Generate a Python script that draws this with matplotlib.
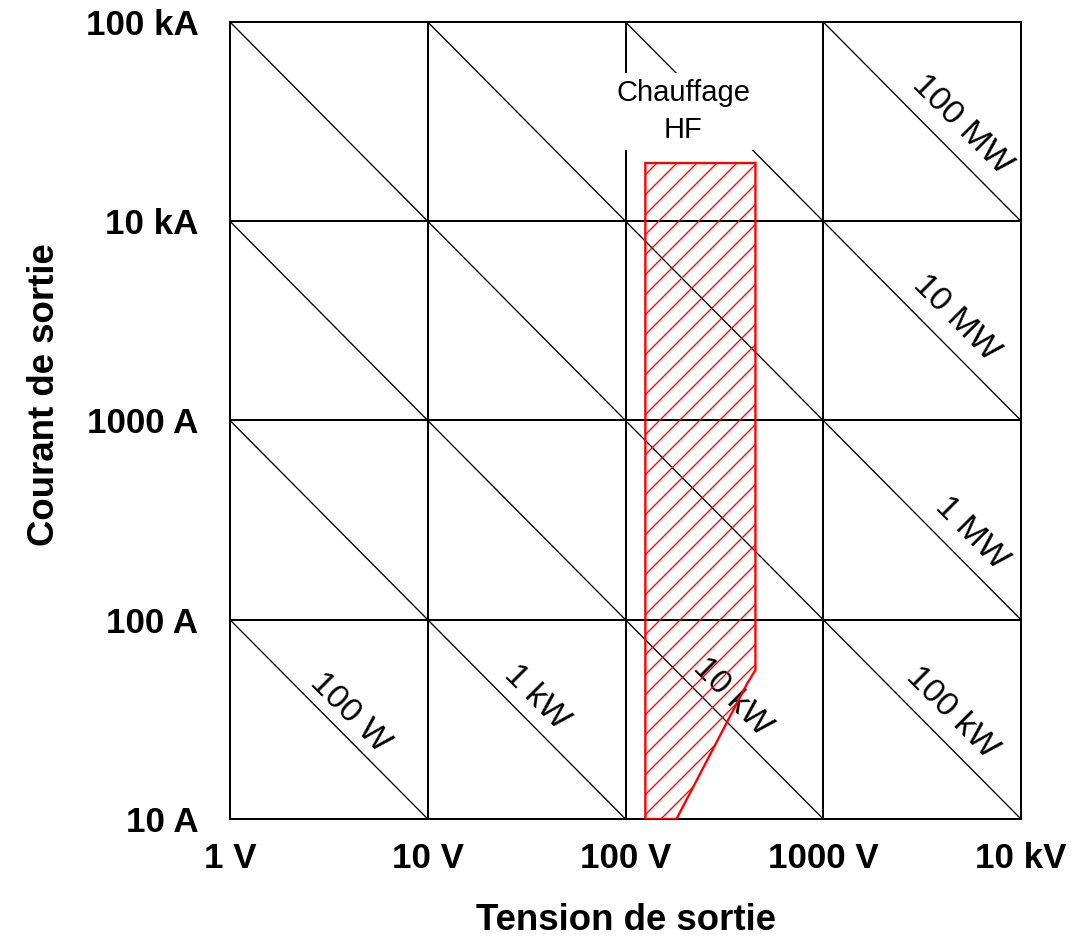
import matplotlib
matplotlib.use("Agg")
from matplotlib import pyplot as plt
from matplotlib.patches import Polygon
from matplotlib.ticker import NullLocator
import numpy as np

plt.rcParams['font.family'] = ['Liberation Sans', 'DejaVu Sans']
plt.rcParams['hatch.linewidth'] = 0.8

# decades on each axis
volt_ticks = [1, 10, 100, 1000, 10000]
volt_labels = ["1 V", "10 V", "100 V", "1000 V", "10 kV"]
amp_ticks = [10, 100, 1000, 10000, 100000]
amp_labels = ["10 A", "100 A", "1000 A", "10 kA", "100 kA"]

# constant power lines (W) and where the labels sit
powers = [1e2, 1e3, 1e4, 1e5, 1e6, 1e7, 1e8]
power_labels = ["100 W", "1 kW", "10 kW", "100 kW", "1 MW", "10 MW", "100 MW"]
label_volts = [4.04, 35.5, 347, 4490, 5590, 4700, 5035]
label_amps = [34.0, 40.9, 40.9, 34.0, 272, 3270, 30400]

# zone "Chauffage HF" (V, A)
hf_volts = [126, 126, 454, 454, 413, 181]
hf_amps = [10, 19600, 19600, 56, 48, 10]

DPI = 120
fig = plt.figure(figsize=(1072 / DPI, 941 / DPI), dpi=DPI)
ax = fig.add_axes([230 / 1072, 1 - 819 / 941, 791 / 1072, 797 / 941])
ax.set_xscale('log')
ax.set_yscale('log')
ax.set_xlim(volt_ticks[0], volt_ticks[-1])
ax.set_ylim(amp_ticks[0], amp_ticks[-1])

ax.set_xticks(volt_ticks, volt_labels)
ax.set_yticks(amp_ticks, amp_labels)
ax.xaxis.set_minor_locator(NullLocator())
ax.yaxis.set_minor_locator(NullLocator())
ax.tick_params(axis='x', length=0, pad=14, labelsize=21)
ax.tick_params(axis='y', length=0, pad=19, labelsize=21)
for lab in ax.get_xticklabels() + ax.get_yticklabels():
    lab.set_fontweight('bold')

ax.grid(True, color='black', lw=1.2)
for sp in ax.spines.values():
    sp.set_linewidth(1.2)

# lines of constant power P = U * I
vv = np.array([volt_ticks[0], volt_ticks[-1]], dtype=float)
for p in powers:
    ax.plot(vv, p / vv, color='black', lw=0.8, zorder=2)

for txt, v, i in zip(power_labels, label_volts, label_amps):
    ax.text(v, i, txt, rotation=-45, rotation_mode='anchor', ha='center',
            va='center', fontsize=20.5, zorder=3)

# hatched zone
zone = Polygon(np.column_stack([hf_volts, hf_amps]), closed=True,
               facecolor='none', edgecolor='red', hatch='//', lw=1.4, zorder=4)
ax.add_patch(zone)

ax.text(196, 35500, "Chauffage\nHF", ha='center', va='center', fontsize=17.5,
        linespacing=1.4, zorder=3,
        bbox=dict(facecolor='white', edgecolor='none', pad=3.5))

ax.set_xlabel("Tension de sortie", fontsize=22, fontweight='bold')
ax.xaxis.set_label_coords(0.5, -0.105)
ax.set_ylabel("Courant de sortie", fontsize=22, fontweight='bold')
ax.yaxis.set_label_coords(-0.212, 0.533)

fig.savefig("out.png", dpi=DPI)
